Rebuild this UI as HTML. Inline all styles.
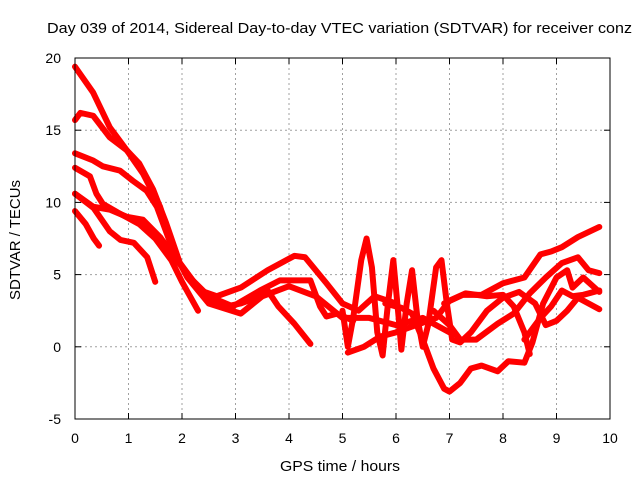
<!DOCTYPE html>
<html><head><meta charset="utf-8"><style>
body{margin:0;background:#fff;}
svg text{font-family:"Liberation Sans",sans-serif;font-size:14px;fill:#000;}
</style></head><body>
<svg id="chart" width="640" height="480" viewBox="0 0 640 480">
<rect width="640" height="480" fill="#fff"/>
<text x="47" y="33" textLength="585" lengthAdjust="spacingAndGlyphs" style="font-size:15px">Day 039 of 2014, Sidereal Day-to-day VTEC variation (SDTVAR) for receiver conz</text>
<g id="grid"></g><g id="series"></g><g id="axes"></g>
<text x="340" y="471" text-anchor="middle" textLength="120" lengthAdjust="spacingAndGlyphs" style="font-size:15px">GPS time / hours</text>
<text transform="translate(20,240) rotate(-90)" text-anchor="middle" textLength="120" lengthAdjust="spacingAndGlyphs" style="font-size:15px">SDTVAR / TECUs</text>
</svg>
<script>
const xTicks=[0,1,2,3,4,5,6,7,8,9,10];
const yTicks=[-5,0,5,10,15,20];
const trackA=[[0,19.4],[0.34,17.6],[0.65,15.2],[0.97,13.6],[1.27,12],[1.59,9.7],[1.83,6.7],[2.1,4.8],[2.5,3],[3.1,2.3],[3.5,3.5],[4,4.2],[4.5,3.5],[5,2],[5.5,2],[6,1.5],[6.5,2],[7,1]];
const trackB=[[0,15.7],[0.1,16.2],[0.34,16],[0.65,14.5],[0.97,13.6],[1.2,12.7],[1.46,10.9],[1.7,8.6],[1.96,5.8],[2.34,3.9],[2.65,3.5],[3.1,4.1],[3.6,5.3],[4.1,6.3],[4.3,6.2],[4.7,4.4],[5.0,3.0],[5.3,2.5],[5.6,3.5],[6,3]];
const trackC=[[0,13.4],[0.34,12.9],[0.52,12.5],[0.84,12.2],[1.08,11.5],[1.34,10.8],[1.53,9.7],[1.78,7.2],[1.96,5.8],[2.2,4.6],[2.5,3.5],[2.95,2.8],[3.46,3.9],[3.83,4.6],[4.2,4.6],[4.4,4.6],[4.58,2.8],[4.7,2.1],[4.9,2.3],[5.2,1.8]];
const trackD=[[0,12.4],[0.28,11.8],[0.4,10.6],[0.52,9.9],[0.8,9.3],[1.2,8.5],[1.5,7.5],[1.8,6],[2.0,4.5],[2.3,2.5]];
const trackE=[[0,10.6],[0.34,9.7],[0.65,9.5],[0.97,9],[1.27,8.8],[1.59,7.6],[1.9,6],[2.2,4.6],[2.5,3.2],[2.84,2.8],[3.1,3],[3.46,3.5],[3.6,3.9],[3.8,2.8],[4.1,1.6],[4.4,0.2]];
const trackF=[[0,9.4],[0.2,8.5],[0.35,7.5],[0.45,7]];
const trackH=[[0,10.6],[0.35,9.6],[0.65,8],[0.85,7.4],[1.1,7.2],[1.35,6.2],[1.5,4.5]];
const trackI=[[5.0,2.5],[5.1,0],[5.2,2],[5.35,6],[5.45,7.5],[5.55,5.5],[5.65,1],[5.75,-0.6],[5.85,3],[5.95,6],[6.05,2],[6.1,-0.2],[6.2,3],[6.3,5.3],[6.4,2],[6.5,0],[6.6,1.5],[6.75,5.5],[6.85,6],[6.95,3],[7.05,0.5],[7.2,0.3],[7.4,1],[7.7,2.5],[8.0,3.4],[8.3,3.8],[8.6,3],[8.8,1.5],[9.0,1.8],[9.2,2.5],[9.4,3.4],[9.6,3],[9.8,2.6]];
const trackJ=[[5.8,3],[6.1,2.7],[6.3,2.3],[6.5,0.5],[6.7,-1.5],[6.9,-2.9],[7.0,-3.1],[7.2,-2.5],[7.4,-1.5],[7.6,-1.3],[7.9,-1.7],[8.1,-1],[8.4,-1.1],[8.55,0.3],[8.75,3],[9.0,4.8],[9.2,5.3],[9.3,4.1],[9.5,4.8],[9.8,3.8]];
const trackK=[[6.9,3],[7.25,3.6],[7.6,3.6],[8.0,4.4],[8.4,4.8],[8.7,6.4],[8.9,6.6],[9.1,6.9],[9.4,7.6],[9.8,8.3]];
const trackL=[[6.7,2.5],[7.0,1.5],[7.2,0.5],[7.5,0.5],[7.9,1.6],[8.2,2.3],[8.5,3.7],[8.8,4.8],[9.1,5.8],[9.4,6.2],[9.6,5.3],[9.8,5.1]];
const trackN=[[8.4,0.5],[8.7,2],[8.9,2.8],[9.1,3.9],[9.3,3.5],[9.5,3.6],[9.8,3.9]];
const trackO=[[5.1,-0.4],[5.4,0],[5.7,0.7],[6,1],[6.3,1.4],[6.75,2],[7.0,3.2],[7.3,3.7],[7.7,3.5],[8.0,3.6],[8.2,2.8],[8.4,1],[8.5,-0.5]];
const tracks=[trackA,trackB,trackC,trackD,trackE,trackF,trackH,trackI,trackJ,trackK,trackL,trackN,trackO];

const X0=75,X1=610,Y0=58,Y1=419;
function xs(v){return X0+(v-0)/(10-0)*(X1-X0);}
function ys(v){return Y1-(v+5)/(25)*(Y1-Y0);}
const NS="http://www.w3.org/2000/svg";
function mk(t,a,p){const e=document.createElementNS(NS,t);for(const k in a)e.setAttribute(k,a[k]);p.appendChild(e);return e;}
const grid=document.getElementById('grid'),axes=document.getElementById('axes'),ser=document.getElementById('series');
xTicks.forEach(t=>{
  const x=xs(t);
  if(t>0&&t<10){const g=mk('line',{x1:x,y1:Y0,x2:x,y2:Y1,stroke:'#a0a0a0','stroke-dasharray':'2,3'},grid);
  
  }
  mk('line',{x1:x,y1:Y1,x2:x,y2:Y1-6,stroke:'#000'},axes);
  mk('line',{x1:x,y1:Y0,x2:x,y2:Y0+6,stroke:'#000'},axes);
  const l=mk('text',{x:x,y:Y1+24,'text-anchor':'middle'},axes);l.textContent=t;
  
  
});
yTicks.forEach(t=>{
  const y=ys(t);
  if(t>-5&&t<20){const g=mk('line',{x1:X0,y1:y,x2:X1,y2:y,stroke:'#a0a0a0','stroke-dasharray':'2,3'},grid);
  
  }
  mk('line',{x1:X0,y1:y,x2:X0+6,y2:y,stroke:'#000'},axes);
  mk('line',{x1:X1,y1:y,x2:X1-6,y2:y,stroke:'#000'},axes);
  const l=mk('text',{x:X0-14,y:y+5,'text-anchor':'end'},axes);l.textContent=t;
  
  
});
const fr=mk('rect',{x:X0,y:Y0,width:X1-X0,height:Y1-Y0,fill:'none',stroke:'#000'},axes);


tracks.forEach((tr,i)=>{
  const p=mk('polyline',{points:tr.map(d=>xs(d[0])+','+ys(d[1])).join(' '),fill:'none',stroke:'#ff0000','stroke-width':6,'stroke-linejoin':'round','stroke-linecap':'round'},ser);
  
  
});
</script>
</body></html>
